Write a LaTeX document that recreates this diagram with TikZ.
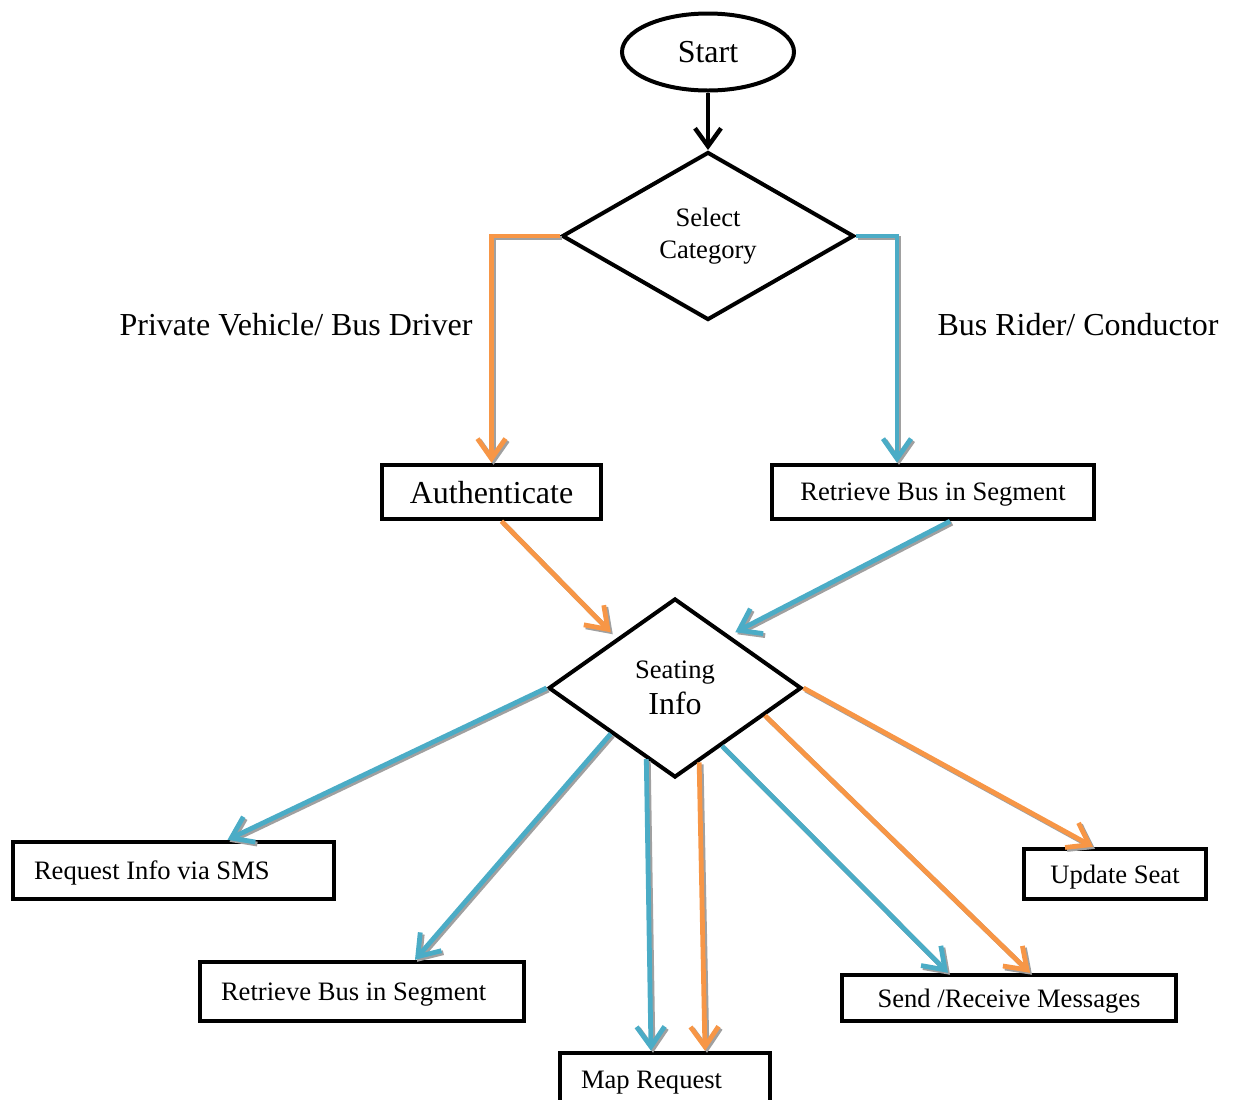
\documentclass[tikz,border=0pt]{standalone}
\usepackage{fontspec}
\setmainfont{Liberation Serif}
\usetikzlibrary{shapes.geometric, arrows.meta, positioning}
\definecolor{AccentOrange}{RGB}{247,150,70}
\definecolor{AccentBlue}{RGB}{75,172,198}
\definecolor{ShadowGrey}{RGB}{160,160,160}
\newcommand{\bigtxt}{\fontsize{16}{19}\selectfont}
\newcommand{\smalltxt}{\fontsize{13.3}{16}\selectfont}
% grey shadow first, then the coloured arrow on top
\newcommand{\flowarrow}[2]{%
  \draw[link, draw=ShadowGrey, transform canvas={shift={(1pt,-1pt)}}] #2;
  \draw[link, draw=#1] #2;}

\begin{document}
\begin{tikzpicture}[
  x=0.5pt, y=-0.5pt,
  terminal/.style={ellipse, draw, line width=2pt, minimum width=86pt, minimum height=38.5pt, font=\bigtxt},
  decision/.style={diamond, draw, line width=2pt, inner sep=0pt, align=center},
  process/.style={rectangle, draw, line width=2.2pt, minimum height=27pt, text depth=0pt, font=\smalltxt},
  leftbox/.style={process, align=flush left, inner xsep=10.5pt},
  caption/.style={font=\bigtxt},
  link/.style={line width=2.4pt, -{Straight Barb[length=10pt, width=14pt]}},
  startlink/.style={line width=2.2pt, -{Straight Barb[length=9pt, width=13pt]}}
]
  \useasboundingbox (0,0) rectangle (1236,1099);
  \clip (0,0) rectangle (1236,1099);

  % top part
  \node (start) [terminal] at (708,52) {Start};
  \node (select) [decision, minimum width=146pt, minimum height=84pt, font=\smalltxt] at (708,236) {Select\\Category};
  \node (auth) [process, minimum width=109.5pt, font=\bigtxt] at (491.5,492) {Authenticate};
  \node (rtop) [process, minimum width=161pt] at (933,492) {Retrieve Bus in Segment};
  \node (driver) [caption] at (296,325) {Private Vehicle/ Bus Driver};
  \node (rider) [caption] at (1078,325) {Bus Rider/ Conductor};

  % seating decision and its outputs
  \node (seat) [decision, minimum width=126.5pt, minimum height=89.5pt] at (675,688) {{\smalltxt Seating}\\[3pt]{\bigtxt Info}};
  \node (sms) [leftbox, text width=139.5pt, minimum height=28.5pt] at (173.5,870.5) {Request Info via SMS};
  \node (rbus) [leftbox, text width=141pt, minimum height=29.5pt] at (362,991.5) {Retrieve Bus in Segment};
  \node (map) [leftbox, text width=84pt] at (665,1080) {Map Request};
  \node (send) [process, minimum width=167pt, minimum height=23pt] at (1009,998) {Send /Receive Messages};
  \node (update) [process, minimum width=91pt, minimum height=25pt] at (1115,874) {Update Seat};

  \draw[startlink] (start) -- (select);
  \flowarrow{AccentOrange}{(select.west) -| (auth.north)}
  \flowarrow{AccentBlue}{(select.east) -| ([xshift=-18pt]rtop.north)}
  \flowarrow{AccentOrange}{([xshift=5pt]auth.south) -- ([yshift=5pt]seat.north west)}
  \flowarrow{AccentBlue}{([xshift=8.5pt]rtop.south) -- ([xshift=-2pt, yshift=5pt]seat.north east)}

  \flowarrow{AccentBlue}{(seat.west) -- ([xshift=27pt]sms.north)}
  \flowarrow{AccentBlue}{(seat.south west) -- ([xshift=26.5pt]rbus.north)}
  \flowarrow{AccentBlue}{(seat.248) -- ([xshift=-7pt]map.north)}
  \flowarrow{AccentOrange}{(seat.288) -- ([xshift=20pt]map.north)}
  \flowarrow{AccentBlue}{(seat.309) -- ([xshift=-30.5pt]send.north)}
  \flowarrow{AccentOrange}{(seat.343) -- ([xshift=10.5pt]send.north)}
  \flowarrow{AccentOrange}{(seat.east) -- ([xshift=-11pt]update.north)}
\end{tikzpicture}
\end{document}
